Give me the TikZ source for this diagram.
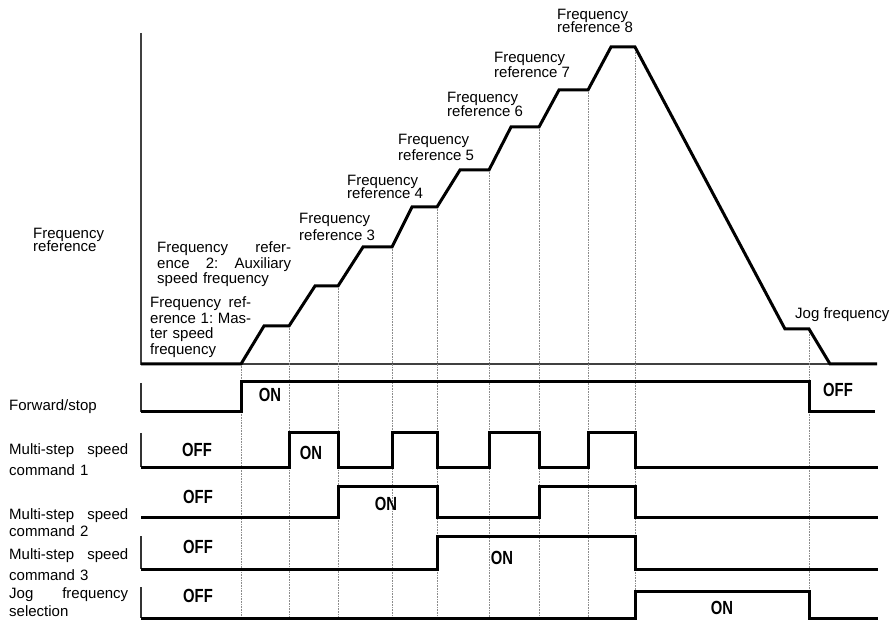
\documentclass[tikz,border=0pt]{standalone}
\usepackage{fontspec}
\setmainfont{Liberation Sans}
\newfontfamily\onofffont[FakeStretch=0.78]{Liberation Sans}
\usetikzlibrary{positioning}
\newcommand\lblfont[1]{\fontsize{15}{#1}\selectfont\lineskiplimit=-30pt\relax}

\begin{document}
\begin{tikzpicture}[
    x=1pt, y=-1pt,
    wave/.style={line width=3pt, line join=miter},
    axis/.style={line width=2pt, black!75},
    tick/.style={line width=1.6pt, black!80},
    guide/.style={densely dotted, line width=0.6pt, black!45},
    lbl/.style={inner sep=0pt, anchor=base west, align=left, font=\lblfont{#1}},
    lbl/.default=16,
    state/.style={inner sep=0pt, font=\onofffont\bfseries\fontsize{19}{19}\selectfont},
]
  \useasboundingbox (0,0) rectangle (895,628);

  % Frequency plot: axes and guides
  \draw[axis] (141,33) -- (141,364) -- (877,364);
  \foreach \tx/\ty in {241/364, 289/326, 338/286, 392/247, 437/207,
                       489/170, 539/127, 588/90, 635/47, 809/329}
    \draw[guide] (\tx,\ty) -- (\tx,618);

  % Frequency output
  \draw[wave] (141,364) -- (241,364) -- (264,326) -- (289,326) -- (315,286) -- (338,286)
    -- (363,247) -- (392,247) -- (412,207) -- (437,207) -- (460,170) -- (489,170)
    -- (511,127) -- (539,127) -- (559,90) -- (588,90) -- (611,47) -- (635,47)
    -- (785,329) -- (809,329) -- (830,364) -- (877,364);

  % Labels of the steps (base = last line)
  \node[lbl=13.5] (freqlbl) at (33,252) {Frequency\\reference};
  \node[lbl=15.5, text width=134pt] (ref2) at (157,253)
    {Frequency\hfill refer-\\ence\hfill 2:\hfill Auxiliary\\speed frequency};
  \node[lbl=15.5, text width=101pt] (ref1) at (150,308)
    {Frequency\hfill ref-\\erence\hfill 1:\hfill Mas-\\ter speed\\frequency};
  \node[lbl=17] (ref3) at (299,241) {Frequency\\reference 3};
  \node[lbl=13.5] (ref4) at (347,199) {Frequency\\reference 4};
  \node[lbl=16] (ref5) at (398,161) {Frequency\\reference 5};
  \node[lbl=14] (ref6) at (447,117) {Frequency\\reference 6};
  \node[lbl=15] (ref7) at (494,78) {Frequency\\reference 7};
  \node[lbl=13.5] (ref8) at (557,33) {Frequency\\reference 8};
  \node[lbl] (jog) at (795,319) {Jog frequency};

  % Row 1: Forward/stop
  \node[lbl, text width=119pt] (fwdlbl) at (9,411) {Forward/stop};
  \draw[tick] (141,383) -- (141,412);
  \draw[wave] (141,412) -- (241,412) -- (241,382) -- (809,382) -- (809,412) -- (875,412);
  \node[state] (fwdon) at (270,395) {ON};
  \node[state] (fwdoff) at (838,390) {OFF};

  % Row 2: Multi-step speed command 1
  \node[lbl=21, text width=119pt] (ms1lbl) at (9,454) {Multi-step\hfill speed\\command 1};
  \draw[tick] (141,433) -- (141,467);
  \draw[wave] (141,467) -- (289,467) -- (289,433) -- (338,433) -- (338,467) -- (392,467)
    -- (392,433) -- (437,433) -- (437,467) -- (489,467) -- (489,433) -- (539,433)
    -- (539,467) -- (588,467) -- (588,433) -- (635,433) -- (635,467) -- (878,467);
  \node[state] (ms1off) at (197,450) {OFF};
  \node[state] (ms1on) at (311,453) {ON};

  % Row 3: Multi-step speed command 2
  \node[lbl=17, text width=119pt] (ms2lbl) at (9,519) {Multi-step\hfill speed\\command 2};
  \draw[wave] (141,517) -- (338,517) -- (338,486) -- (437,486) -- (437,517) -- (539,517)
    -- (539,486) -- (635,486) -- (635,517) -- (878,517);
  \node[state] (ms2off) at (198,497) {OFF};
  \node[state] (ms2on) at (386,504) {ON};

  % Row 4: Multi-step speed command 3
  \node[lbl=21, text width=119pt] (ms3lbl) at (9,559) {Multi-step\hfill speed\\command 3};
  \draw[tick] (141,536) -- (141,569);
  \draw[wave] (141,569) -- (437,569) -- (437,536) -- (635,536) -- (635,569) -- (878,569);
  \node[state] (ms3off) at (198,547) {OFF};
  \node[state] (ms3on) at (502,558) {ON};

  % Row 5: Jog frequency selection
  \node[lbl=18, text width=119pt] (joglbl) at (9,598) {Jog\hfill frequency\\selection};
  \draw[tick] (141,587) -- (141,618);
  \draw[wave] (141,618) -- (635,618) -- (635,591) -- (809,591) -- (809,618) -- (878,618);
  \node[state] (jogoff) at (198,596) {OFF};
  \node[state] (jogon) at (722,608) {ON};
\end{tikzpicture}
\end{document}
